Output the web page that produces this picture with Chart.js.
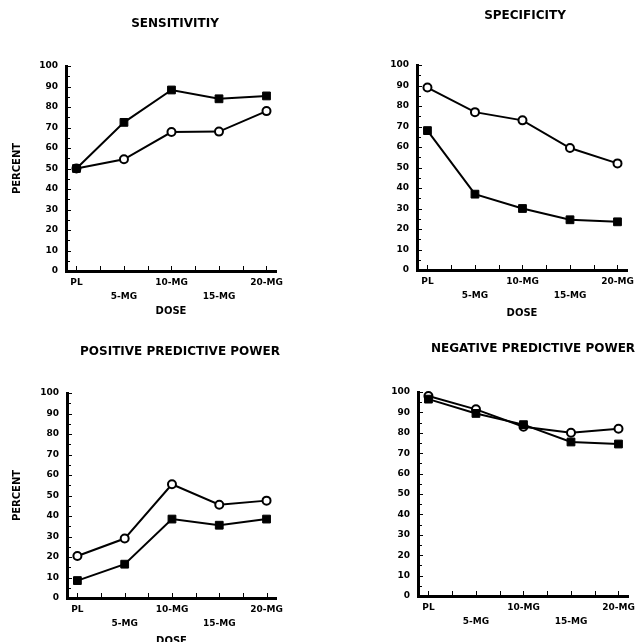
<!DOCTYPE html>
<html>
<head>
<meta charset="utf-8">
<script src="https://cdn.jsdelivr.net/npm/chart.js@4.4.1/dist/chart.umd.min.js"></script>
<style>
  html, body { margin: 0; padding: 0; background: #fff; overflow: hidden; }
  #page { position: relative; width: 639px; height: 642px; overflow: hidden; background: #fff; }
  canvas { position: absolute; }
</style>
</head>
<body>
<div id="page">
  <canvas id="sens" width="320" height="320" style="left:0;top:0"></canvas>
  <canvas id="spec" width="319" height="320" style="left:320px;top:0"></canvas>
  <canvas id="ppv" width="320" height="330" style="left:0;top:320px"></canvas>
  <canvas id="npv" width="319" height="322" style="left:320px;top:320px"></canvas>
</div>
<script>
// 데이터
const doses = ["PL", "5-MG", "10-MG", "15-MG", "20-MG"];
const percentTicks = [0, 10, 20, 30, 40, 50, 60, 70, 80, 90, 100];

const sensSquares = [50, 72.5, 88.3, 84, 85.4];
const sensCircles = [50, 54.5, 67.8, 68, 78];

const specSquares = [68, 37, 30, 24.5, 23.5];
const specCircles = [89, 77, 73, 59.5, 52];

const ppvSquares = [8.5, 16.5, 38.5, 35.5, 38.5];
const ppvCircles = [20.5, 29, 55.5, 45.5, 47.5];

const npvSquares = [96.5, 89.5, 84, 75.5, 74.5];
const npvCircles = [98, 91.5, 83, 80, 82];

const FONT = "'DejaVu Sans', sans-serif";

// 축 안쪽으로 그리는 눈금
const inwardTicks = {
    id: "inwardTicks",
    afterDraw: function (chart) {
        const { ctx, chartArea, scales } = chart;
        ctx.save();
        ctx.strokeStyle = "#000";
        ctx.lineWidth = 1;
        ctx.beginPath();
        for (let v = 0; v <= 100; v += 5) {
            const py = Math.round(scales.y.getPixelForValue(v)) + 0.5;
            ctx.moveTo(chartArea.left, py);
            ctx.lineTo(chartArea.left + (v % 10 ? 4 : 5), py);
        }
        for (let v = 0; v <= doses.length - 1; v += 0.5) {
            const px = Math.round(scales.x.getPixelForValue(v)) + 0.5;
            ctx.moveTo(px, chartArea.bottom);
            ctx.lineTo(px, chartArea.bottom - 5);
        }
        ctx.stroke();
        ctx.restore();
    }
};

// 패널 제목
const panelTitle = {
    id: "panelTitle",
    afterDraw: function (chart, args, opts) {
        const ctx = chart.ctx;
        ctx.save();
        ctx.font = "bold 12px " + FONT;
        ctx.fillStyle = "#000";
        ctx.textAlign = "center";
        ctx.textBaseline = "middle";
        ctx.fillText(opts.text, opts.x, opts.y);
        ctx.restore();
    }
};

function toPoints(aValues) {
    return aValues.map((v, i) => ({ x: i, y: v }));
}

function makePanel(sId, oCfg) {
    const ctx = document.getElementById(sId).getContext("2d");
    return new Chart(ctx, {
        type: "line",
        plugins: [inwardTicks, panelTitle],
        data: {
            datasets: [
                {
                    data: toPoints(oCfg.squares),
                    borderColor: "#000",
                    borderWidth: 2,
                    pointStyle: "rect",
                    pointRadius: 5.5,
                    pointBackgroundColor: "#000",
                    pointBorderColor: "#000",
                    pointBorderWidth: 1,
                    clip: false
                },
                {
                    data: toPoints(oCfg.circles),
                    borderColor: "#000",
                    borderWidth: 2,
                    pointStyle: "circle",
                    pointRadius: 4,
                    pointBackgroundColor: "#fff",
                    pointBorderColor: "#000",
                    pointBorderWidth: 2,
                    clip: false
                }
            ]
        },
        options: {
            responsive: false,
            animation: false,
            layout: {
                autoPadding: false,
                padding: { left: 0, top: oCfg.padTop, right: oCfg.padRight, bottom: 0 }
            },
            plugins: {
                legend: { display: false },
                tooltip: { enabled: false },
                panelTitle: { text: oCfg.title, x: oCfg.titleX, y: oCfg.titleY }
            },
            scales: {
                x: {
                    type: "linear",
                    min: -0.22,
                    max: 4.2,
                    afterBuildTicks: function (scale) {
                        scale.ticks = doses.map((d, i) => ({ value: i }));
                    },
                    afterFit: function (scale) {
                        scale.height = oCfg.xHeight;
                        scale.paddingLeft = 0;
                        scale.paddingRight = 0;
                    },
                    grid: { display: false, drawTicks: false },
                    border: { display: true, color: "#000", width: 3 },
                    ticks: {
                        autoSkip: false,
                        maxRotation: 0,
                        minRotation: 0,
                        padding: 5,
                        color: "#000",
                        font: { family: FONT, size: 9, weight: "bold", lineHeight: "14px" },
                        callback: function (value) {
                            // 라벨을 두 줄로 엇갈리게
                            return value % 2 ? ["", doses[value]] : doses[value];
                        }
                    },
                    title: {
                        display: oCfg.showDose,
                        text: "DOSE",
                        color: "#000",
                        font: { family: FONT, size: 10, weight: "bold" },
                        padding: { top: 0, bottom: oCfg.doseBottom }
                    }
                },
                y: {
                    min: 0,
                    max: 100,
                    afterBuildTicks: function (scale) {
                        scale.ticks = percentTicks.map(v => ({ value: v }));
                    },
                    afterFit: function (scale) {
                        scale.width = oCfg.yWidth;
                        scale.paddingTop = 0;
                        scale.paddingBottom = 0;
                    },
                    grid: { display: false, drawTicks: false },
                    border: { display: true, color: "#000", width: 3 },
                    ticks: {
                        padding: 8,
                        color: "#000",
                        font: { family: FONT, size: 9, weight: "bold" }
                    },
                    title: {
                        display: oCfg.showPercent,
                        text: "PERCENT",
                        color: "#000",
                        font: { family: FONT, size: 10, weight: "bold" },
                        padding: { top: 11, bottom: 0 }
                    }
                }
            }
        }
    });
}

makePanel("sens", {
    title: "SENSITIVITIY", titleX: 175, titleY: 24,
    squares: sensSquares, circles: sensCircles,
    yWidth: 66, xHeight: 49, padTop: 66, padRight: 44,
    showPercent: true, showDose: true, doseBottom: 3
});

makePanel("spec", {
    title: "SPECIFICITY", titleX: 205, titleY: 16,
    squares: specSquares, circles: specCircles,
    yWidth: 97, xHeight: 50, padTop: 65, padRight: 12,
    showPercent: false, showDose: true, doseBottom: 1
});

makePanel("ppv", {
    title: "POSITIVE PREDICTIVE POWER", titleX: 180, titleY: 32,
    squares: ppvSquares, circles: ppvCircles,
    yWidth: 67, xHeight: 52, padTop: 73, padRight: 44,
    showPercent: true, showDose: true, doseBottom: 3
});

makePanel("npv", {
    title: "NEGATIVE PREDICTIVE POWER", titleX: 213, titleY: 29,
    squares: npvSquares, circles: npvCircles,
    yWidth: 98, xHeight: 46, padTop: 72, padRight: 11,
    showPercent: false, showDose: false, doseBottom: 0
});
</script>
</body>
</html>
